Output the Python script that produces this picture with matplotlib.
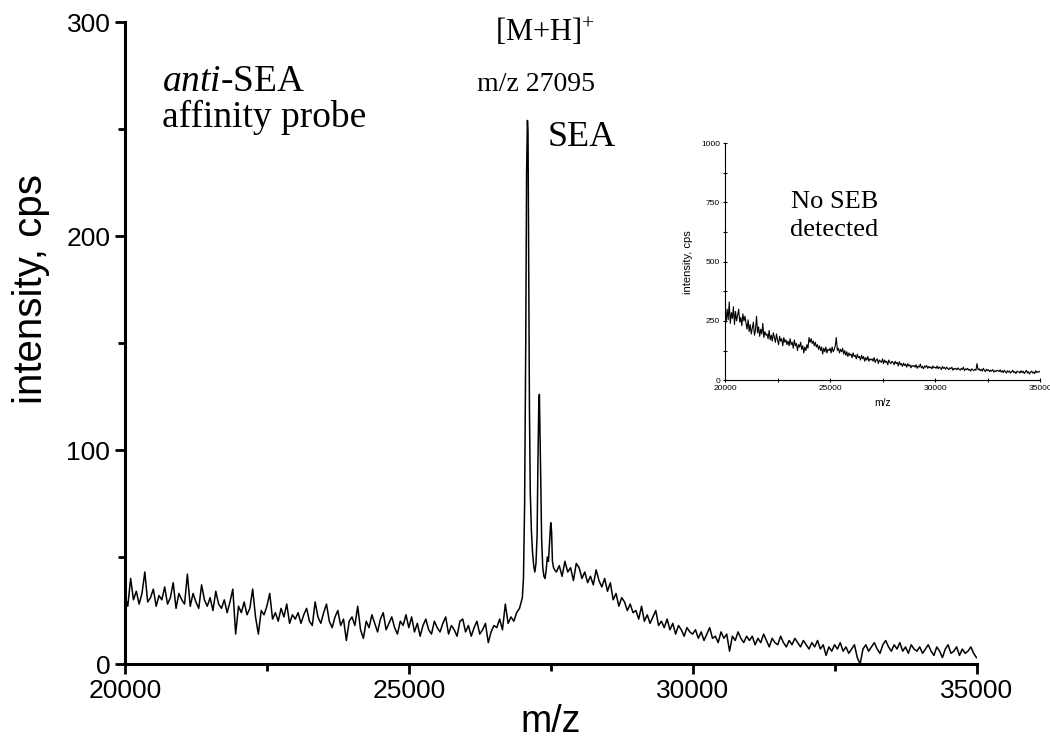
import numpy as np
import matplotlib
matplotlib.use("Agg")
import matplotlib.pyplot as plt
from matplotlib.ticker import MultipleLocator

plt.rcParams["font.family"] = ["Liberation Sans", "DejaVu Sans"]
plt.rcParams["mathtext.fontset"] = "custom"
plt.rcParams["mathtext.rm"] = "Liberation Serif"
plt.rcParams["mathtext.it"] = "Liberation Serif:italic"

# main spectrum (anti-SEA probe), background left of the peak, step 50 m/z
bg_left_mz = np.arange(20000, 26901, 50)
bg_left_int = [
    32, 27, 40, 30, 34, 28, 33, 43, 29, 31, 35, 27, 32, 30, 36, 28, 31, 38, 26, 33,
    30, 28, 42, 27, 33, 29, 26, 37, 30, 27, 31, 25, 34, 28, 26, 30, 24, 29, 35, 14,
    27, 24, 29, 23, 26, 35, 22, 14, 25, 23, 27, 33, 21, 24, 20, 26, 22, 28, 19, 23,
    21, 24, 19, 23, 26, 20, 18, 29, 22, 19, 24, 28, 20, 17, 22, 25, 18, 21, 11, 20,
    22, 18, 27, 16, 12, 20, 17, 23, 19, 15, 21, 24, 16, 19, 22, 17, 14, 20, 18, 23,
    17, 22, 15, 19, 13, 18, 21, 16, 14, 20, 17, 15, 19, 22, 14, 18, 16, 13, 20, 21,
    15, 18, 13, 17, 20, 14, 16, 19, 10, 15, 18, 17, 21, 16, 28, 19, 22, 20, 24,
]

# SEA peak cluster
peak_mz = [26950, 26980, 27000, 27020, 27040, 27060, 27075, 27090, 27100, 27110,
           27125, 27140, 27160, 27180, 27200, 27220, 27240, 27260, 27275, 27290,
           27300, 27310, 27325, 27340, 27360, 27380, 27400, 27420, 27440, 27460,
           27480, 27500, 27515, 27530, 27550, 27570, 27600]
peak_int = [26, 29, 31, 40, 75, 150, 230, 254, 248, 200,
            120, 80, 62, 52, 46, 43, 47, 60, 95, 122,
            126, 110, 85, 58, 45, 41, 40, 44, 50, 48,
            57, 66, 62, 48, 45, 44, 43]

# background right of the peak
bg_right_mz = np.arange(27650, 35001, 50)
bg_right_int = [
    46, 41, 48, 43, 45, 39, 47,
    45, 40, 43, 38, 41, 37, 44, 39, 36, 40, 34, 38, 30, 33, 27, 31, 29, 25, 28, 24,
    25, 21, 27, 20, 23, 19, 22, 25, 18, 20, 17, 21, 16, 19, 14, 18, 16, 13, 17, 15,
    14, 16, 12, 15, 11, 14, 17, 12, 13, 10, 15, 12, 14, 6, 13, 11, 15, 12, 10, 13,
    11, 13, 9, 12, 10, 14, 11, 8, 12, 10, 9, 13, 10, 8, 11, 9, 12, 10, 8, 11,
    9, 7, 10, 8, 11, 7, 9, 4, 8, 6, 9, 7, 10, 6, 8, 5, 7, 9, 3, 0,
    7, 9, 6, 8, 10, 7, 5, 9, 11, 8, 6, 9, 7, 10, 6, 8, 5, 9, 7, 6,
    8, 5, 7, 9, 6, 4, 8, 6, 3, 7, 9, 5, 6, 8, 4, 7, 5, 6, 8, 5,
    3,
]

# inset spectrum (anti-SEB probe), step 50 m/z
inset_mz = np.arange(20000, 35001, 50)
inset_int = [
    270, 245, 300, 255, 330, 240, 285, 260, 310, 235, 290, 250, 275, 300, 245, 265, 230, 280, 250, 270,
    240, 215, 255, 205, 235, 195, 220, 245, 190, 210, 270, 200, 225, 185, 215, 195, 240, 180, 205, 190,
    195, 175, 210, 170, 190, 165, 200, 180, 160, 195, 170, 150, 185, 165, 175, 145, 180, 160, 170, 150,
    165, 145, 175, 150, 160, 135, 170, 145, 155, 125, 150, 140, 160, 130, 145, 115, 140, 125, 150, 135,
    180, 160, 175, 155, 165, 145, 160, 140, 150, 130, 145, 125, 140, 110, 135, 120, 140, 115, 130, 125,
    135, 115, 140, 120, 130, 145, 180, 125, 135, 115, 130, 120, 135, 110, 125, 105, 120, 100, 115, 105,
    110, 95, 115, 100, 105, 90, 110, 95, 100, 85, 105, 90, 100, 80, 95, 85, 100, 80, 90, 85,
    90, 80, 95, 75, 85, 90, 70, 85, 80, 75, 90, 70, 85, 75, 80, 65, 85, 75, 70, 80,
    75, 65, 80, 70, 75, 60, 78, 65, 70, 58, 72, 62, 68, 55, 70, 60, 65, 52, 62, 58,
    62, 55, 65, 50, 60, 55, 68, 52, 58, 48, 60, 55, 62, 50, 58, 52, 56, 48, 60, 52,
    55, 50, 60, 48, 56, 52, 45, 58, 50, 54, 46, 55, 50, 44, 52, 48, 55, 42, 50, 46,
    50, 44, 52, 46, 42, 50, 45, 55, 40, 48, 44, 50, 42, 46, 38, 48, 44, 40, 46, 42,
    70, 44, 48, 40, 46, 38, 50, 42, 36, 46, 40, 44, 36, 42, 38, 45, 34, 40, 36, 42,
    40, 36, 44, 34, 40, 32, 42, 36, 30, 40, 34, 38, 30, 36, 42, 32, 36, 28, 38, 34,
    36, 30, 40, 32, 38, 28, 35, 42, 30, 36, 26, 34, 38, 30, 35, 28, 40, 32, 36, 34,
    38,
]

mz = np.concatenate([bg_left_mz, peak_mz, bg_right_mz])
intensity = np.concatenate([bg_left_int, peak_int, bg_right_int])

fig = plt.figure(figsize=(10.5, 7.44), dpi=100)
ax = fig.add_axes([0.119, 0.1075, 0.811, 0.8629])
ax.plot(mz, intensity, color="black", lw=1.1)
ax.set_xlim(20000, 35000)
ax.set_ylim(0, 300)
for s in ["top", "right"]:
    ax.spines[s].set_visible(False)
for s in ["left", "bottom"]:
    ax.spines[s].set_linewidth(2.2)
ax.xaxis.set_major_locator(MultipleLocator(5000))
ax.xaxis.set_minor_locator(MultipleLocator(2500))
ax.yaxis.set_major_locator(MultipleLocator(100))
ax.yaxis.set_minor_locator(MultipleLocator(50))
ax.tick_params(which="major", direction="out", length=7, width=2, labelsize=19)
ax.tick_params(which="minor", direction="out", length=5, width=2)
ax.set_xlabel("m/z", fontsize=27, labelpad=1)
ax.set_ylabel("intensity, cps", fontsize=29)
ax.yaxis.set_label_coords(-0.088, 0.584)

serif = ["Liberation Serif", "DejaVu Serif"]
ax.text(20650, 268, r"$\mathit{anti}$-SEA", fontsize=27, family=serif)
ax.text(20650, 251, "affinity probe", fontsize=27, family=serif)
ax.text(27400, 291, r"[M+H]$^{+}$", fontsize=22, family=serif, ha="center")
ax.text(27240, 268, "m/z 27095", fontsize=20, family=serif, ha="center")
ax.text(27450, 242, "SEA", fontsize=26, family=serif)

# inset
ins = fig.add_axes([0.6905, 0.489, 0.300, 0.3185])
ins.plot(inset_mz, inset_int, color="black", lw=0.8)
ins.set_xlim(20000, 35000)
ins.set_ylim(0, 1000)
for s in ["top", "right"]:
    ins.spines[s].set_visible(False)
ins.xaxis.set_major_locator(MultipleLocator(5000))
ins.xaxis.set_minor_locator(MultipleLocator(2500))
ins.yaxis.set_major_locator(MultipleLocator(250))
ins.yaxis.set_minor_locator(MultipleLocator(125))
ins.tick_params(which="both", direction="inout", length=3, width=0.8, labelsize=6, pad=2)
ins.set_xlabel("m/z", fontsize=7.5)
ins.set_ylabel("intensity, cps", fontsize=8, labelpad=6)
ins.text(25200, 726, "No SEB", fontsize=19, family=serif, ha="center")
ins.text(25200, 608, "detected", fontsize=19, family=serif, ha="center")

plt.savefig("out.png", dpi=100)
